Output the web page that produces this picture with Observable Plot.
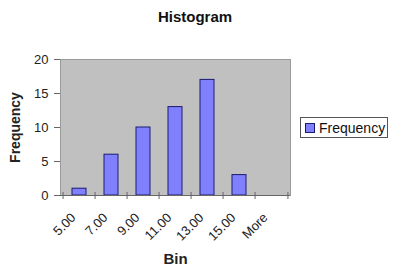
<!DOCTYPE html>
<html><head>
<meta charset="utf-8">
<script src="https://cdn.jsdelivr.net/npm/d3@7"></script>
<script src="https://cdn.jsdelivr.net/npm/@observablehq/plot@0.6"></script>
<style>
body{margin:0;background:#fff;font-family:"Liberation Sans",Arial,sans-serif}
#wrap{position:relative;width:400px;height:279px;overflow:hidden}
#title{position:absolute;left:0;width:390px;top:8px;text-align:center;font-weight:bold;font-size:15px;color:#111}
#legend{position:absolute;left:300px;top:117px;width:88px;height:21px;border:1px solid #555;background:#fff;box-sizing:border-box;font-size:14px;color:#111;display:flex;align-items:center}
#legend .sw{width:8px;height:8px;background:#8080FF;border:1px solid #1a1a6e;margin:0 4px 0 4px}
</style>
</head><body>
<div id="wrap">
<div id="title"></div>
<div id="legend"><span class="sw"></span><span id="legtext"></span></div>
</div>
<script>
const title = "Histogram";
const xLabel = "Bin";
const yLabel = "Frequency";
const seriesName = "Frequency";
const bins = ["5.00","7.00","9.00","11.00","13.00","15.00","More"];
const frequency = [1, 6, 10, 13, 17, 3, 0];
const yTicks = [0, 5, 10, 15, 20];

const data = bins.map((b, i) => ({bin: b, freq: frequency[i]}));

const W = 400, H = 279, mL = 60, mR = 110, mT = 59, mB = 84;
const step = (W - mL - mR) / bins.length;

document.getElementById("title").textContent = title;
document.getElementById("legtext").textContent = seriesName;

const chart = Plot.plot({
  width: W, height: H,
  marginLeft: mL, marginRight: mR, marginTop: mT, marginBottom: mB,
  style: {fontFamily: '"Liberation Sans", Arial, sans-serif', fontSize: "13px", background: "transparent", color: "#222"},
  x: {type: "band", domain: bins, paddingInner: 0.57, paddingOuter: 0.285, label: null},
  y: {domain: [0, 20], label: null},
  marks: [
    Plot.frame({fill: "#C0C0C0", stroke: "#9a9a9a"}),
    Plot.barY(data.filter(d => d.freq > 0), {x: "bin", y: "freq", fill: "#8080FF", stroke: "#1a1a6e", strokeWidth: 1}),
    Plot.ruleY([0], {stroke: "#666"}),
    Plot.ruleX([0], {frameAnchor: "left", stroke: "#888"}),
    Plot.axisY({ticks: yTicks, tickSize: 6, tickPadding: 6, fontSize: 13, stroke: "#666", label: null}),
    Plot.axisX({ticks: bins, tickSize: 7, dx: -step / 2, dy: -3, text: null, stroke: "#666", label: null}),
    Plot.axisX({ticks: bins.slice(-1), tickSize: 7, dx: step / 2, dy: -3, text: null, stroke: "#666", label: null}),
    Plot.axisX({ticks: bins, tickSize: 0, tickRotate: -45, tickPadding: 20, dx: -6, fontSize: 13, label: null}),
    Plot.text([yLabel], {text: d => d, frameAnchor: "left", textAnchor: "middle", rotate: -90, dx: -45, fontWeight: "bold", fontSize: 14}),
    Plot.text([xLabel], {text: d => d, frameAnchor: "bottom", dy: 68, fontWeight: "bold", fontSize: 15})
  ]
});
chart.style.position = "absolute";
chart.style.left = "0px";
chart.style.top = "0px";
document.getElementById("wrap").prepend(chart);
</script>
</body></html>
